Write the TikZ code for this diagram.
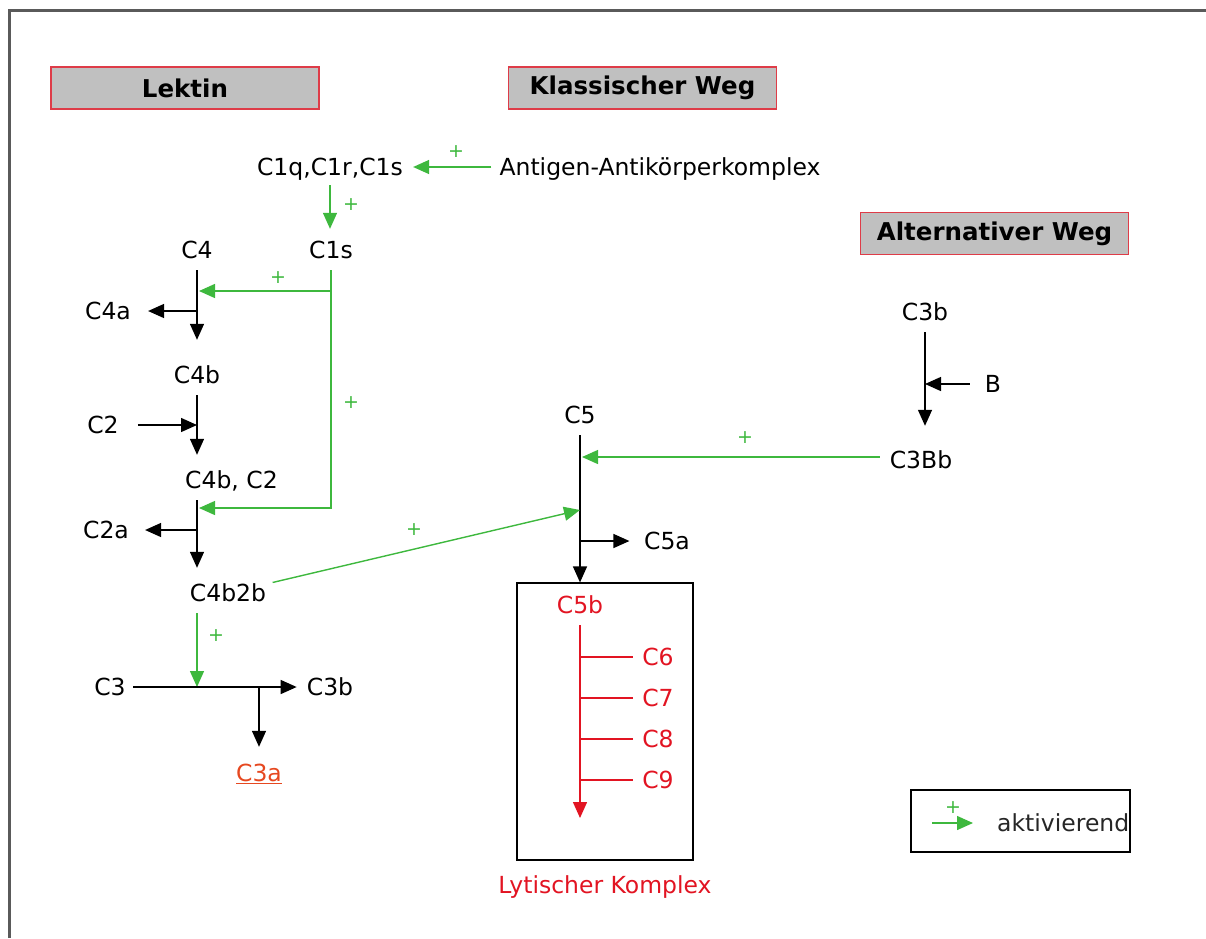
\documentclass[tikz,border=0pt]{standalone}
\usepackage{fontspec}
\setmainfont{DejaVu Sans}
\usetikzlibrary{arrows.meta,calc}
\definecolor{actgreen}{RGB}{62,184,62}
\definecolor{hdrgray}{RGB}{192,192,192}
\definecolor{hdrred}{RGB}{222,60,72}
\definecolor{lytred}{RGB}{226,20,34}
\definecolor{c3ared}{RGB}{230,72,32}
\definecolor{framegray}{RGB}{90,90,90}
\tikzset{
  lbl/.style={font=\fontsize{23.5}{28}\selectfont, inner sep=0pt, text height=17pt, text depth=0pt},
  redlbl/.style={lbl, text=lytred},
  hdr/.style={draw=hdrred, fill=hdrgray, line width=1.4pt, minimum width=268pt, minimum height=42pt,
    inner sep=0pt, font=\fontsize{24.5}{29}\selectfont\bfseries},
  plusmark/.style={text=actgreen, inner sep=0pt, font=\fontsize{19}{22}\selectfont},
  tipb/.style={-{Triangle[length=16pt,width=14pt]}},
  blk/.style={draw=black, line width=1.4pt, tipb},
  grn/.style={draw=actgreen, line width=1.4pt, tipb},
  redline/.style={draw=lytred, line width=1.4pt},
  frame/.style={draw=black, line width=1.2pt}
}
\begin{document}
\begin{tikzpicture}[x=1pt,y=-1pt]
\useasboundingbox (0,0) rectangle (1206,938);
\draw[framegray, line width=2.2pt] (9.5,938) -- (9.5,10.5) -- (1206,10.5);

% headers
\node[hdr] (lektin) at (185,88) {Lektin};
\node[hdr] (klass) at (642.5,88) {Klassischer Weg};
\node[hdr] (alt) at (994.5,233.5) {Alternativer Weg};

% classical start
\node[lbl] (c1) at (330,167) {C1q,C1r,C1s};
\node[lbl] (ag) at (660,167) {Antigen-Antikörperkomplex};
\draw[grn, shorten <=8pt, shorten >=10pt] (ag) -- (c1);
\node[plusmark] (p1) at (456,152) {+};
\node[lbl] (c1s) at (331,250) {C1s};
\draw[grn, shorten <=9.5pt, shorten >=12.5pt] (c1) -- (c1 |- c1s.north);
\node[plusmark] (p2) at (351,205) {+};

% left column
\node[lbl] (c4) at (197,250) {C4};
\node[lbl] (c4b) at (197,375) {C4b};
\draw[blk, shorten <=11.5pt, shorten >=26.5pt] (c4) -- (c4b);
\coordinate (j4a) at (197,311);
\node[lbl] (c4a) at (108,311) {C4a};
\draw[blk, shorten >=17pt] (j4a) -- (c4a);

\coordinate (gb) at (331,291);
\coordinate (t1) at (199,291);
\coordinate (gk) at (331,508);
\coordinate (t2) at (199,508);
\draw[grn, shorten <=11.5pt] (c1s) -- (gk) -- (t2);
\draw[grn] (gb) -- (t1);
\node[plusmark] (p3) at (278,278) {+};
\node[plusmark] (p4) at (351,403) {+};

\node[lbl] (c2) at (103,425) {C2};
\coordinate (j2) at (197,425);
\draw[blk, shorten <=19pt] (c2) -- (j2);

\node[lbl, anchor=west] (c4bc2) at (185,480) {C4b, C2};
\draw[blk, shorten <=11.5pt, shorten >=16.5pt] (c4b) -- (c4b |- c4bc2.north);

\node[lbl] (c4b2b) at (228,593) {C4b2b};
\draw[blk, shorten <=11.5pt, shorten >=16.5pt] (c4b |- c4bc2.south) -- (c4b |- c4b2b.north);
\coordinate (j2a) at (197,530);
\node[lbl] (c2a) at (106,530) {C2a};
\draw[blk, shorten >=16pt] (j2a) -- (c2a);

% C3 cleavage
\coordinate (j3) at (197,687);
\draw[grn, shorten <=11.5pt] (j3 |- c4b2b.south) -- (j3);
\node[plusmark] (p5) at (216,636) {+};
\node[lbl] (c3) at (110,687) {C3};
\node[lbl] (c3b) at (330,687) {C3b};
\draw[blk, shorten <=7.5pt, shorten >=10pt] (c3) -- (c3b);
\coordinate (j3a) at (259,687);
\node[lbl, text=c3ared] (c3a) at (259,773) {\underline{C3a}};
\draw[blk, shorten >=17.5pt] (j3a) -- (c3a);

% C5
\node[lbl] (c5) at (580,415) {C5};
\node[draw, line width=1.2pt, minimum width=176pt, minimum height=277pt, inner sep=0pt] (lyt) at (605,721.5) {};
\draw[blk, shorten <=11.5pt] (c5) -- (c5 |- lyt.north);
\coordinate (t5b) at (580,510);
\draw[grn, shorten <=8pt] (c4b2b) -- (t5b);
\node[plusmark] (p6) at (414,530) {+};

\node[lbl] (c3bb) at (921,460) {C3Bb};
\coordinate (t5a) at (582,457);
\draw[grn, shorten <=10pt] (c3bb.west |- t5a) -- (t5a);
\node[plusmark] (p7) at (745,438) {+};

\coordinate (j5a) at (580,541);
\node[lbl] (c5a) at (667,541) {C5a};
\draw[blk, shorten >=14.5pt] (j5a) -- (c5a);

% lytic complex
\node[redlbl] (c5b) at (580,605) {C5b};
\coordinate (lend) at (580,818);
\draw[redline, tipb, shorten <=11.5pt] (c5b) -- (lend);
\foreach \n/\yy in {6/657,7/698,8/739,9/780}{
  \coordinate (b\n) at (580,\yy);
  \node[redlbl] (c\n) at (658,\yy) {C\n};
  \draw[redline, shorten >=9.5pt] (b\n) -- (c\n);
}
\node[redlbl] (lytlbl) at (605,885) {Lytischer Komplex};

% alternative pathway
\node[lbl] (c3balt) at (925,312) {C3b};
\draw[blk, shorten <=11.5pt, shorten >=25.5pt] (c3balt) -- (c3balt |- c3bb.north);
\node[lbl] (bnode) at (993,384) {B};
\coordinate (jb) at (925,384);
\draw[blk, shorten <=15pt] (bnode) -- (jb);

% legend
\node[draw, line width=1.2pt, minimum width=219pt, minimum height=62pt, inner sep=0pt] (legend) at (1020.5,821) {};
\coordinate (la) at (932,823);
\coordinate (lb) at (973,823);
\draw[grn] (la) -- (lb);
\node[plusmark] (p8) at (953,808) {+};
\node[lbl, anchor=west, text=black!85] (akt) at (997,823) {aktivierend};
\end{tikzpicture}
\end{document}
